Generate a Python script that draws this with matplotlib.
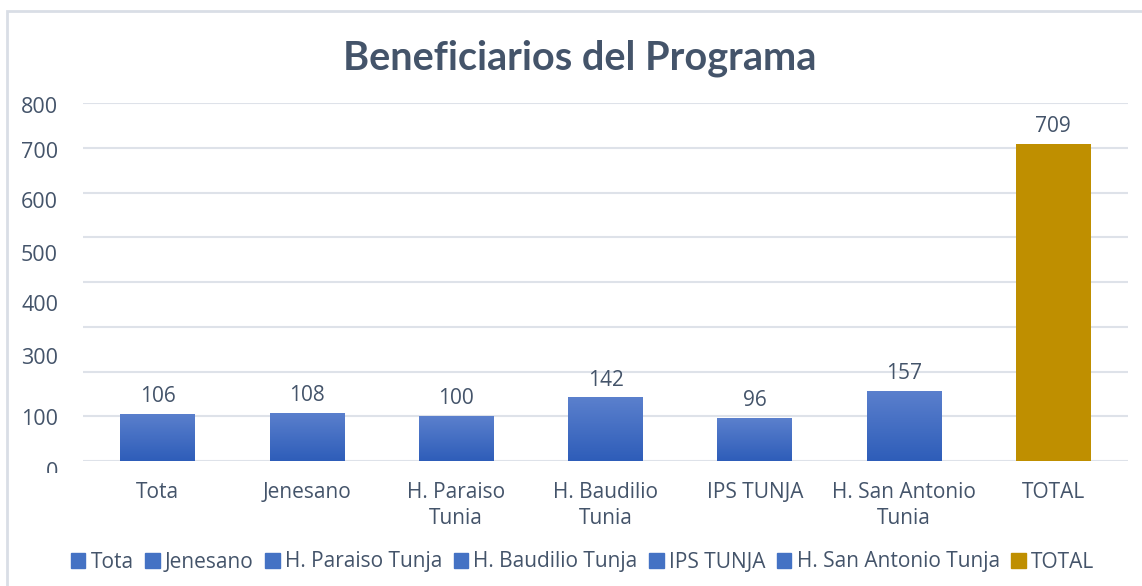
import numpy as np
import matplotlib
matplotlib.use("Agg")
import matplotlib.pyplot as plt
from matplotlib.patches import Rectangle
from matplotlib.transforms import Bbox, TransformedBbox, ScaledTranslation

# datos del grafico
categorias = ["Tota", "Jenesano", "H. Paraiso\nTunia", "H. Baudilio\nTunia",
              "IPS TUNJA", "H. San Antonio\nTunia", "TOTAL"]
nombres_leyenda = ["Tota", "Jenesano", "H. Paraiso Tunja", "H. Baudilio Tunja",
                   "IPS TUNJA", "H. San Antonio Tunja", "TOTAL"]
beneficiarios = [106, 108, 100, 142, 96, 157, 709]

# etiquetas del eje y (en el original salen desplazadas y falta el 200)
etiquetas_y = ["100", "300", "400", "500", "600", "700", "800"]
pos_etiquetas_y = [98, 235, 353, 465, 583, 695, 795]
pos_cero = -25

texto = "#44546A"
azul = "#4472C4"
dorado = "#BF8F00"
grid_color = "#DEE2E9"

plt.rcParams["font.family"] = ["Open Sans", "DejaVu Sans"]

fig = plt.figure(figsize=(11.42, 5.86), dpi=100)
ax = fig.add_axes([83 / 1142, 1 - 461 / 586, 1045 / 1142, (461 - 103) / 586])

x = np.arange(len(categorias))
colores = [azul] * 6 + [dorado]
barras = ax.bar(x, beneficiarios, width=0.5, color=colores, zorder=2)

# degradado azul en las barras de municipios
grad = np.linspace(0, 1, 256).reshape(-1, 1)
cmap = matplotlib.colors.LinearSegmentedColormap.from_list("g", ["#2E5DB9", "#5B80CD"])
for b, c in zip(barras, colores):
    if c == azul:
        x0, w, h = b.get_x(), b.get_width(), b.get_height()
        im = ax.imshow(grad, extent=[x0, x0 + w, 0, h], origin="lower",
                       aspect="auto", cmap=cmap, zorder=3)
        im.set_clip_path(b)

ax.bar_label(barras, labels=[str(v) for v in beneficiarios], padding=5,
             color=texto, fontsize=15, zorder=4)

# lineas de cuadricula
ax.set_yticks(range(0, 801, 100), minor=True)
ax.yaxis.grid(True, which="minor", color=grid_color, lw=1.5, zorder=0)
ax.tick_params(axis="y", which="minor", length=0)
ax.set_yticks(pos_etiquetas_y, etiquetas_y)
ax.tick_params(axis="y", which="major", length=0, pad=18, labelsize=15.5, labelcolor=texto)

ax.set_xticks(x, categorias)
ax.tick_params(axis="x", length=0, pad=15, labelsize=15, labelcolor=texto)
for lbl in ax.get_xticklabels():
    lbl.set_linespacing(1.35)

ax.set_xlim(-0.5, len(categorias) - 0.5)
ax.set_ylim(0, 800)

for s in ax.spines.values():
    s.set_visible(False)

# el "0" aparece cortado en la imagen original
caja = TransformedBbox(Bbox([[0, 1 - 473 / 586], [1, 1]]), fig.transFigure)
trans = ax.get_yaxis_transform() + ScaledTranslation(-18 / 72, 0, fig.dpi_scale_trans)
cero = fig.text(0, pos_cero, "0", transform=trans, ha="right", va="center",
                fontsize=15.5, color=texto)
cero.set_clip_box(caja)
cero.set_clip_on(True)

fig.text(0.508, 1 - 58 / 586, "Beneficiarios del Programa", ha="center", va="center",
         fontsize=28.5, fontweight="bold", color=texto, family=["Lato", "DejaVu Sans"])

handles = [Rectangle((0, 0), 1, 1, color=c) for c in colores]
fig.legend(handles, nombres_leyenda, loc="center", bbox_to_anchor=(0.51, 1 - 562 / 586),
           ncol=7, frameon=False, fontsize=15, labelcolor=texto,
           handlelength=0.7, handleheight=0.7, handletextpad=0.25, columnspacing=0.55)

# borde del area del grafico
fig.patches.append(Rectangle((6.5 / 1142, -0.1), 1.2, 1.1 - 11 / 586,
                             transform=fig.transFigure, fill=False,
                             edgecolor="#D9DEE6", lw=2))

fig.savefig("out.png", dpi=100)
